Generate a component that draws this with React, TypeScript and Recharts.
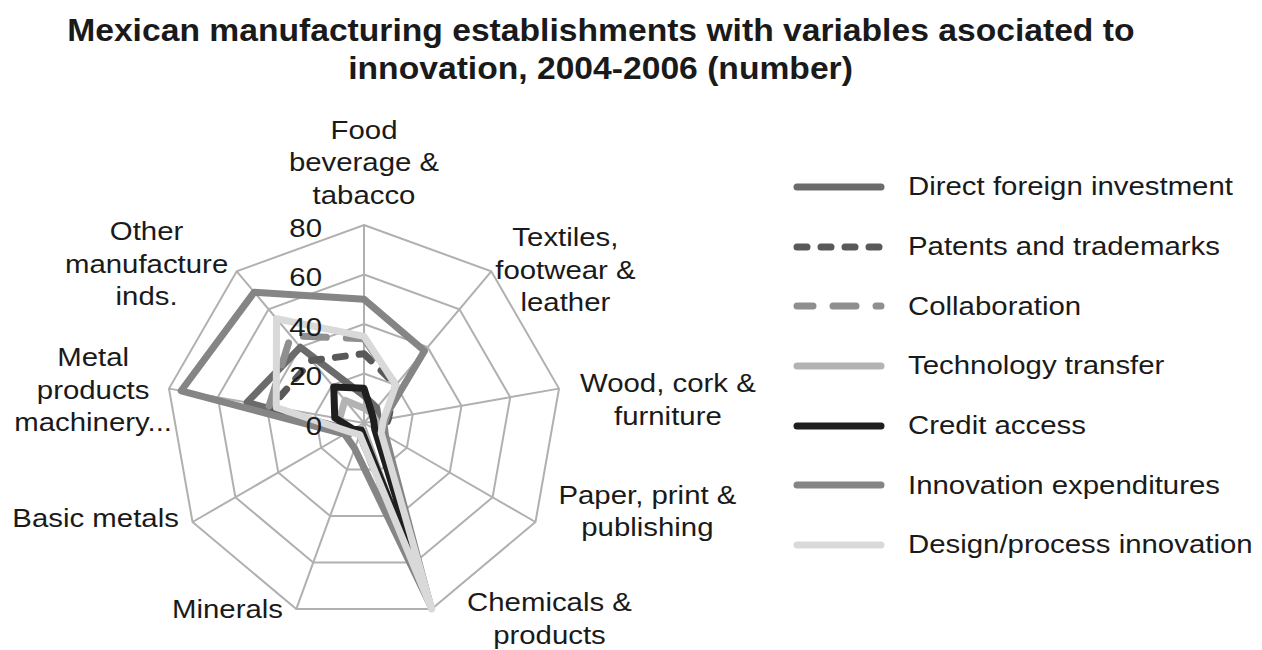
import React from 'react';
import { RadarChart, Radar, PolarGrid, PolarAngleAxis, PolarRadiusAxis, Legend } from 'recharts';

const categories = [
  'Food beverage & tabacco',
  'Textiles, footwear & leather',
  'Wood, cork & furniture',
  'Paper, print & publishing',
  'Chemicals & products',
  'Minerals',
  'Basic metals',
  'Metal products machinery...',
  'Other manufacture inds.',
];
const categoryLines = [
  ['Food', 'beverage &', 'tabacco'],
  ['Textiles,', 'footwear &', 'leather'],
  ['Wood, cork &', 'furniture'],
  ['Paper, print &', 'publishing'],
  ['Chemicals &', 'products'],
  ['Minerals'],
  ['Basic metals'],
  ['Metal', 'products', 'machinery...'],
  ['Other', 'manufacture', 'inds.'],
];

const seriesNames = [
  'Direct foreign investment',
  'Patents and trademarks',
  'Collaboration',
  'Technology transfer',
  'Credit access',
  'Innovation expenditures',
  'Design/process innovation',
];

const directForeignInvestment = [11, 8, 6, 7, 76, 4, 6, 48, 40];
const patentsAndTrademarks = [28, 20, 10, 9, 76, 5, 8, 38, 33];
const collaboration = [34, 20, 9, 8, 77, 5, 8, 39, 46];
const technologyTransfer = [6, 5, 5, 7, 79, 4, 6, 10, 12];
const creditAccess = [14, 5, 4, 5, 72, 3, 5, 12, 19];
const innovationExpenditures = [50, 38, 8, 10, 78, 11, 9, 75, 69];
const designProcessInnovation = [35, 20, 8, 8, 80, 5, 7, 36, 55];

const radiusTicks = [0, 20, 40, 60, 80];

const seriesKeys = ['dfi', 'pat', 'col', 'tech', 'cred', 'inno', 'design'];
const seriesValues = [
  directForeignInvestment,
  patentsAndTrademarks,
  collaboration,
  technologyTransfer,
  creditAccess,
  innovationExpenditures,
  designProcessInnovation,
];

// styles
const seriesColors = ['#6b6b6b', '#595959', '#8f8f8f', '#b3b3b3', '#1f1f1f', '#858585', '#d9d9d9'];
const seriesDash = [undefined, '10 14', '23 20', undefined, undefined, undefined, undefined];
const legendDashOffset = [0, 0, 7, 0, 0, 0, 0];

const data = categories.map((c, i) => {
  const row: any = { category: c };
  seriesKeys.forEach((k, s) => {
    row[k] = seriesValues[s][i];
  });
  return row;
});

const FONT = '"Liberation Sans", Arial, sans-serif';
const TEXT_SX = 1.13;

const labelOffsets = [
  { dx: 0, dy: -87 },
  { dx: 69, dy: -28 },
  { dx: 101, dy: -4 },
  { dx: 105, dy: -31 },
  { dx: 115, dy: -14 },
  { dx: -66, dy: -7 },
  { dx: -90, dy: -8 },
  { dx: -68, dy: -30 },
  { dx: -85, dy: -34 },
];

const AngleTick = (props: any) => {
  const { x, y, index } = props;
  const lines = categoryLines[index] || [];
  const off = labelOffsets[index] || { dx: 0, dy: 0 };
  return (
    <g>
      {lines.map((ln, j) => (
        <g key={j} transform={`translate(${x + off.dx},${y + off.dy + j * 32.5}) scale(${TEXT_SX},1)`}>
          <text
            x={0}
            y={0}
            textAnchor="middle"
            dominantBaseline="central"
            fontSize={26}
            fontFamily={FONT}
            fill="#1a1a1a"
          >
            {ln}
          </text>
        </g>
      ))}
    </g>
  );
};

const RadiusTick = (props: any) => {
  const { x, y, payload } = props;
  return (
    <g transform={`translate(${x - 42},${y + 3}) scale(${TEXT_SX},1)`}>
      <text
        x={0}
        y={0}
        textAnchor="end"
        dominantBaseline="central"
        fontSize={26}
        fontFamily={FONT}
        fill="#1a1a1a"
      >
        {payload.value}
      </text>
    </g>
  );
};

const LegendContent = () => (
  <div style={{ fontFamily: FONT }}>
    {seriesNames.map((name, i) => (
      <div key={name} style={{ display: 'flex', alignItems: 'center', height: 59.7 }}>
        <svg width={100} height={20} style={{ display: 'block' }}>
          <line
            x1={4}
            y1={10}
            x2={88}
            y2={10}
            stroke={seriesColors[i]}
            strokeWidth={7}
            strokeLinecap="round"
            strokeDasharray={seriesDash[i]}
            strokeDashoffset={legendDashOffset[i]}
          />
        </svg>
        <span
          style={{
            fontSize: 26,
            color: '#1a1a1a',
            marginLeft: 15,
            whiteSpace: 'nowrap',
            display: 'inline-block',
            transform: `scaleX(${TEXT_SX})`,
            transformOrigin: 'left center',
          }}
        >
          {name}
        </span>
      </div>
    ))}
  </div>
);

export default function App() {
  return (
    <div
      style={{
        position: 'absolute',
        left: 0,
        top: 0,
        width: 1262,
        height: 650,
        background: '#ffffff',
        fontFamily: FONT,
        overflow: 'hidden',
      }}
    >
      <div
        style={{
          position: 'absolute',
          left: 0,
          top: 12,
          width: 1202,
          textAlign: 'center',
          fontWeight: 'bold',
          fontSize: 31,
          lineHeight: '38px',
          color: '#1a1a1a',
        }}
      >
        <span style={{ display: 'inline-block', transform: 'scaleX(1.085)', transformOrigin: 'center' }}>
          Mexican manufacturing establishments with variables asociated to
        </span>
        <br />
        <span style={{ display: 'inline-block', transform: 'scaleX(1.085)', transformOrigin: 'center' }}>
          innovation, 2004-2006 (number)
        </span>
      </div>
      <RadarChart
        width={1262}
        height={650}
        data={data}
        cx={364}
        cy={423}
        outerRadius={198}
        margin={{ top: 0, right: 0, bottom: 0, left: 0 }}
        startAngle={90}
        endAngle={-270}
      >
        <PolarGrid gridType="polygon" stroke="#b0b0b0" strokeWidth={2} />
        <PolarAngleAxis dataKey="category" tick={<AngleTick />} axisLine={false} tickLine={false} />
        <PolarRadiusAxis
          angle={90}
          domain={[0, 80]}
          tickCount={5}
          ticks={radiusTicks as any}
          axisLine={false}
          tickLine={false}
          tick={<RadiusTick />}
        />
        {seriesKeys.map((k, i) => (
          <Radar
            key={k}
            name={seriesNames[i]}
            dataKey={k}
            stroke={seriesColors[i]}
            strokeWidth={7}
            strokeDasharray={seriesDash[i]}
            strokeLinecap="round"
            strokeLinejoin="round"
            fill="none"
            fillOpacity={0}
            dot={false}
            isAnimationActive={false}
          />
        ))}
        <Legend
          layout="vertical"
          align="right"
          verticalAlign="top"
          content={<LegendContent />}
          wrapperStyle={{ position: 'absolute', left: 793, top: 157, width: 465 }}
        />
      </RadarChart>
    </div>
  );
}
